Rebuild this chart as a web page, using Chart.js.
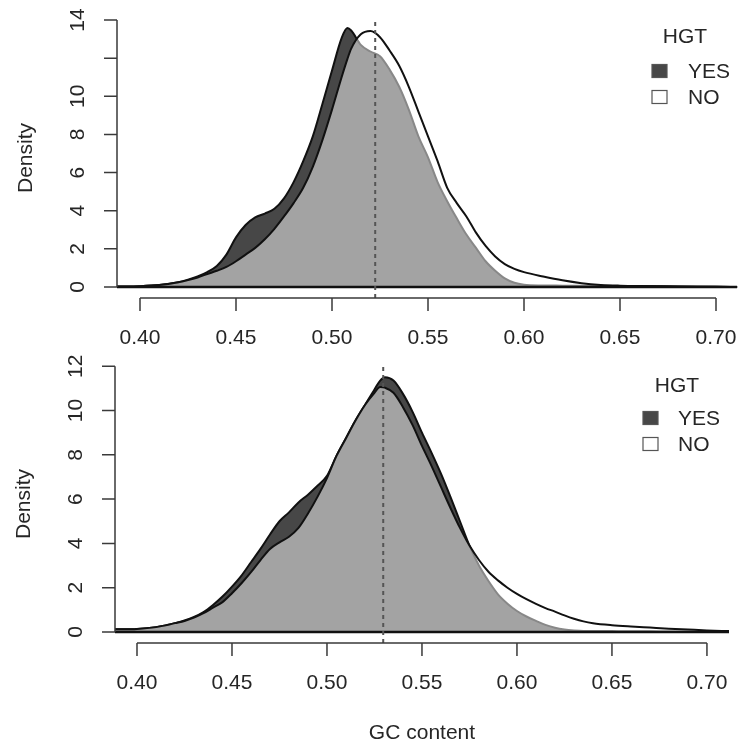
<!DOCTYPE html>
<html>
<head>
<meta charset="utf-8">
<script src="https://cdn.jsdelivr.net/npm/chart.js@4/dist/chart.umd.min.js"></script>
<style>
  body { margin: 0; background: #fff; }
  #contenedor { position: relative; width: 740px; height: 744px; }
  canvas { position: absolute; left: 0; }
</style>
</head>
<body>
<div id="contenedor">
  <canvas id="graficoSuperior" width="740" height="350" style="top:0px"></canvas>
  <canvas id="graficoInferior" width="740" height="394" style="top:350px"></canvas>
</div>
<script>
// ---- datos ----
// panel superior
let gcSuperior = [0.388,0.40,0.41,0.42,0.425,0.43,0.435,0.44,0.445,0.45,
  0.455,0.46,0.465,0.47,0.475,0.48,0.485,0.49,0.495,0.50,
  0.505,0.508,0.51,0.515,0.52,0.525,0.53,0.535,0.54,0.545,
  0.55,0.555,0.56,0.565,0.57,0.575,0.58,0.585,0.59,0.595,
  0.60,0.61,0.62,0.63,0.64,0.65,0.66,0.68,0.70,0.711];
let yesSuperior = [0.02,0.04,0.1,0.25,0.38,0.55,0.78,1.1,1.7,2.6,
  3.25,3.65,3.85,4.1,4.65,5.5,6.6,7.9,9.6,11.35,
  13.05,13.58,13.45,12.7,12.35,12.1,11.4,10.5,9.3,7.9,
  6.8,5.5,4.5,3.6,2.75,2.05,1.35,0.85,0.45,0.22,
  0.12,0.08,0.07,0.06,0.06,0.05,0.04,0.02,0.01,0];
let noSuperior = [0.02,0.04,0.1,0.25,0.36,0.5,0.68,0.85,1.05,1.35,
  1.7,2.05,2.5,3.05,3.7,4.4,5.2,6.3,7.7,9.3,
  11.0,11.95,12.5,13.25,13.42,13.1,12.4,11.6,10.5,9.2,
  7.9,6.6,5.2,4.4,3.7,2.85,2.15,1.6,1.2,0.95,
  0.78,0.55,0.35,0.2,0.11,0.07,0.05,0.03,0.01,0];
let mediaSuperior = 0.5225;

// panel inferior
let gcInferior = [0.3884,0.40,0.41,0.415,0.42,0.425,0.43,0.435,0.44,0.445,
  0.45,0.455,0.46,0.465,0.47,0.475,0.48,0.485,0.49,0.495,
  0.50,0.505,0.51,0.515,0.52,0.525,0.528,0.5305,0.535,0.54,
  0.545,0.55,0.555,0.56,0.565,0.57,0.575,0.58,0.585,0.59,
  0.595,0.60,0.605,0.61,0.615,0.62,0.625,0.63,0.635,0.64,
  0.65,0.66,0.67,0.68,0.69,0.70,0.7116];
let yesInferior = [0.12,0.14,0.22,0.3,0.4,0.52,0.68,0.9,1.22,1.6,
  2.05,2.55,3.15,3.75,4.4,5.0,5.4,5.85,6.2,6.6,
  7.05,7.95,8.75,9.55,10.25,10.95,11.35,11.5,11.35,10.75,
  9.95,9.0,8.1,7.15,6.1,5.0,3.9,3.0,2.3,1.7,
  1.28,0.95,0.7,0.5,0.32,0.19,0.11,0.07,0.05,0.05,
  0.04,0.03,0.03,0.02,0.02,0.01,0.01];
let noInferior = [0.12,0.14,0.22,0.3,0.4,0.5,0.65,0.85,1.1,1.35,
  1.75,2.2,2.7,3.25,3.75,4.05,4.3,4.7,5.35,6.1,
  6.95,7.95,8.75,9.55,10.25,10.8,11.06,11.03,10.8,10.15,
  9.35,8.4,7.5,6.55,5.6,4.7,3.9,3.25,2.72,2.33,
  2.0,1.72,1.48,1.27,1.08,0.92,0.75,0.6,0.48,0.4,
  0.31,0.25,0.2,0.15,0.11,0.07,0.04];
let mediaInferior = 0.5296;

// ejes
let ticksX = [0.40,0.45,0.50,0.55,0.60,0.65,0.70];
let etiquetasX = ['0.40','0.45','0.50','0.55','0.60','0.65','0.70'];
let ticksYSuperior = [0,2,4,6,8,10,12,14];
let etiquetasYSuperior = ['0','2','4','6','8','10','','14']; // R se salta el 12 por falta de espacio
let ticksYInferior = [0,2,4,6,8,10,12];
let etiquetasYInferior = ['0','2','4','6','8','10','12'];

let tituloLeyenda = 'HGT';
let seriesLeyenda = ['YES', 'NO'];
let tituloY = 'Density';
let tituloX = 'GC content';

const FUENTE = '21px "Liberation Sans", Arial, Helvetica, sans-serif';
const COLOR_TEXTO = '#262626';
const COLOR_YES = '#474747';
const COLOR_NO = 'rgba(255,255,255,0.5)'; // blanco semitransparente: la zona comun queda gris

function puntos(xs, ys){
  return xs.map((x, i) => ({x: x, y: ys[i]}));
}

// ejes estilo R dibujados con las escalas del grafico
const ejesR = {
  id: 'ejesR',
  afterDraw(chart, args, op){
    const ctx = chart.ctx;
    const ex = chart.scales.x, ey = chart.scales.y;
    const area = chart.chartArea;
    ctx.save();
    ctx.strokeStyle = '#3a3a3a';
    ctx.lineWidth = 1.5;
    ctx.fillStyle = COLOR_TEXTO;
    ctx.font = FUENTE;

    // eje x
    let yEje = area.bottom;
    ctx.beginPath();
    ctx.moveTo(ex.getPixelForValue(op.ticksX[0]), yEje);
    ctx.lineTo(ex.getPixelForValue(op.ticksX[op.ticksX.length-1]), yEje);
    op.ticksX.forEach(v => {
      let px = ex.getPixelForValue(v);
      ctx.moveTo(px, yEje);
      ctx.lineTo(px, yEje + 13);
    });
    ctx.stroke();
    ctx.textAlign = 'center';
    ctx.textBaseline = 'middle';
    op.ticksX.forEach((v, i) => {
      ctx.fillText(op.etiquetasX[i], ex.getPixelForValue(v), yEje + 40);
    });
    if (op.tituloX) {
      let medio = (ex.getPixelForValue(op.ticksX[0]) + ex.getPixelForValue(op.ticksX[op.ticksX.length-1])) / 2;
      ctx.fillText(op.tituloX, medio, yEje + 90);
    }

    // eje y
    let xEje = area.left;
    ctx.beginPath();
    ctx.moveTo(xEje, ey.getPixelForValue(op.ticksY[0]));
    ctx.lineTo(xEje, ey.getPixelForValue(op.ticksY[op.ticksY.length-1]));
    op.ticksY.forEach(v => {
      let py = ey.getPixelForValue(v);
      ctx.moveTo(xEje, py);
      ctx.lineTo(xEje - 13, py);
    });
    ctx.stroke();
    op.ticksY.forEach((v, i) => {
      if (!op.etiquetasY[i]) return;
      ctx.save();
      ctx.translate(xEje - 39, ey.getPixelForValue(v));
      ctx.rotate(-Math.PI / 2);
      ctx.fillText(op.etiquetasY[i], 0, 0);
      ctx.restore();
    });
    ctx.save();
    ctx.translate(xEje - 91, (area.top + area.bottom) / 2);
    ctx.rotate(-Math.PI / 2);
    ctx.fillText(tituloY, 0, 0);
    ctx.restore();
    ctx.restore();
  }
};

// leyenda estilo R
const leyendaR = {
  id: 'leyendaR',
  afterDraw(chart, args, op){
    const ctx = chart.ctx;
    ctx.save();
    ctx.font = FUENTE;
    ctx.fillStyle = COLOR_TEXTO;
    ctx.textAlign = 'center';
    ctx.textBaseline = 'middle';
    ctx.fillText(tituloLeyenda, op.tituloX, op.tituloY);
    seriesLeyenda.forEach((nombre, i) => {
      let d = chart.data.datasets.find(s => s.label === nombre);
      let yc = op.filas[i];
      ctx.fillStyle = d.colorLeyenda;
      ctx.fillRect(op.cajaX, yc - 6.5, 15, 13);
      ctx.strokeStyle = '#555';
      ctx.lineWidth = 1.2;
      ctx.strokeRect(op.cajaX, yc - 6.5, 15, 13);
      ctx.fillStyle = COLOR_TEXTO;
      ctx.textAlign = 'left';
      ctx.fillText(d.label, op.textoX, yc + 1);
    });
    ctx.restore();
  }
};

function crearGrafico(idCanvas, gc, yes, no, media, escalas, padding, opEjes, opLeyenda){
  // order alto = se dibuja antes (queda debajo)
  let datasets = [
    { // media
      label: 'media',
      data: [{x: media, y: escalas.yMin}, {x: media, y: escalas.yMax}],
      borderColor: '#555',
      borderWidth: 2,
      borderDash: [4, 4],
      pointRadius: 0,
      fill: false,
      order: 0
    },
    { // linea base de los poligonos
      label: 'base',
      data: [{x: gc[0], y: 0}, {x: gc[gc.length-1], y: 0}],
      borderColor: '#111',
      borderWidth: 2.5,
      pointRadius: 0,
      fill: false,
      order: 1
    },
    {
      label: 'NO',
      colorLeyenda: '#fff',
      data: puntos(gc, no),
      borderColor: '#111',
      backgroundColor: COLOR_NO,
      borderWidth: 2,
      pointRadius: 0,
      fill: 'origin',
      cubicInterpolationMode: 'monotone',
      order: 2
    },
    {
      label: 'YES',
      colorLeyenda: COLOR_YES,
      data: puntos(gc, yes),
      borderColor: '#111',
      backgroundColor: COLOR_YES,
      borderWidth: 2,
      pointRadius: 0,
      fill: 'origin',
      cubicInterpolationMode: 'monotone',
      order: 3
    }
  ];

  return new Chart(document.getElementById(idCanvas), {
    type: 'line',
    data: { datasets: datasets },
    options: {
      responsive: false,
      animation: false,
      events: [],
      layout: { padding: padding },
      scales: {
        x: { type: 'linear', min: escalas.xMin, max: escalas.xMax, display: false },
        y: { type: 'linear', min: escalas.yMin, max: escalas.yMax, display: false }
      },
      plugins: {
        legend: { display: false },
        tooltip: { enabled: false },
        ejesR: opEjes,
        leyendaR: opLeyenda
      }
    },
    plugins: [ejesR, leyendaR]
  });
}

let graficoSuperior = crearGrafico('graficoSuperior', gcSuperior, yesSuperior, noSuperior, mediaSuperior,
  { xMin: 0.38802, xMax: 0.7125, yMin: -0.577, yMax: 14.106 },
  { left: 117, right: 0, top: 18, bottom: 52 },
  { ticksX: ticksX, etiquetasX: etiquetasX, ticksY: ticksYSuperior, etiquetasY: etiquetasYSuperior },
  { tituloX: 685, tituloY: 37, cajaX: 652, textoX: 688, filas: [71, 97] });

let graficoInferior = crearGrafico('graficoInferior', gcInferior, yesInferior, noInferior, mediaInferior,
  { xMin: 0.38842, xMax: 0.7174, yMin: -0.4966, yMax: 12.054 },
  { left: 115, right: 0, top: 15, bottom: 101 },
  { ticksX: ticksX, etiquetasX: etiquetasX, ticksY: ticksYInferior, etiquetasY: etiquetasYInferior, tituloX: tituloX },
  { tituloX: 677, tituloY: 36, cajaX: 643, textoX: 678, filas: [68, 94] });
</script>
</body>
</html>
